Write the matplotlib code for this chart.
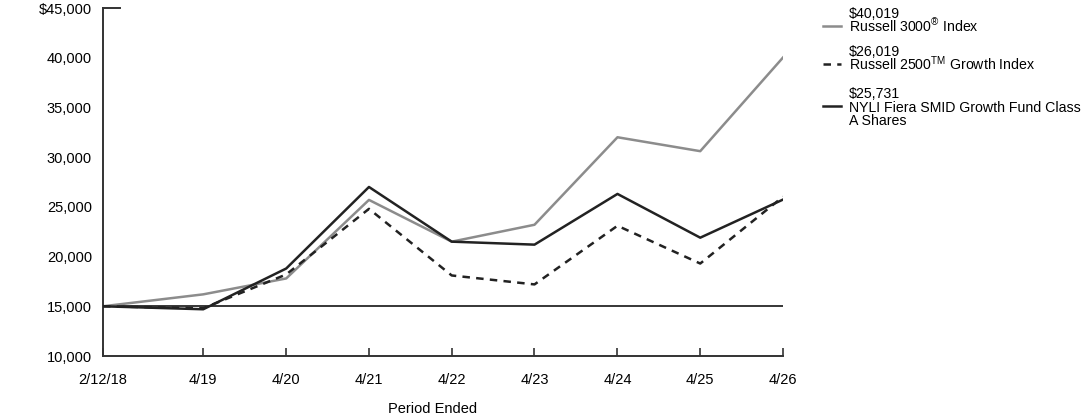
import datetime as dt
import matplotlib
matplotlib.use("Agg")
import matplotlib.pyplot as plt
from matplotlib.lines import Line2D
from matplotlib.ticker import FuncFormatter

plt.rcParams['font.family'] = ['Liberation Sans', 'DejaVu Sans']
plt.rcParams['mathtext.fontset'] = 'custom'
plt.rcParams['mathtext.rm'] = 'Liberation Sans'

# данные
dates = [dt.date(2018, 2, 12), dt.date(2019, 4, 30), dt.date(2020, 4, 30),
         dt.date(2021, 4, 30), dt.date(2022, 4, 30), dt.date(2023, 4, 30),
         dt.date(2024, 4, 30), dt.date(2025, 4, 30), dt.date(2026, 4, 30)]
tick_labels = ["2/12/18", "4/19", "4/20", "4/21", "4/22", "4/23", "4/24", "4/25", "4/26"]

russell_3000 = [15000, 16200, 17800, 25700, 21500, 23200, 32000, 30600, 40019]
russell_2500g = [15000, 14800, 18200, 24800, 18100, 17200, 23100, 19300, 26019]
fund = [15000, 14700, 18800, 27000, 21500, 21200, 26300, 21900, 25731]

baseline = 15000

end_values = ["$40,019", "$26,019", "$25,731"]
names = [["Russell 3000$^{\\mathrm{®}}$ Index"],
         ["Russell 2500$^{\\mathrm{TM}}$ Growth Index"],
         ["NYLI Fiera SMID Growth Fund Class", "A Shares"]]

gray = "#8c8c8c"
dark = "#222222"

fig = plt.figure(figsize=(10.92, 4.17), dpi=100)
ax = fig.add_axes([103 / 1092, 1 - 356 / 417, 680 / 1092, 348 / 417])

ax.plot(dates, [baseline] * len(dates), color="black", lw=1.1, zorder=1)
ax.plot(dates, russell_3000, color=gray, lw=1.8, zorder=2)
ax.plot(dates, russell_2500g, color=dark, lw=1.8, dashes=(3, 2.5), zorder=3)
ax.plot(dates, fund, color=dark, lw=1.8, zorder=4)

ax.set_xlim(dates[0], dates[-1])
ax.set_ylim(10000, 45000)
ax.set_xticks(dates)
ax.set_xticklabels(tick_labels, fontsize=10.5)
ax.set_yticks(range(10000, 45001, 5000))
ax.yaxis.set_major_formatter(FuncFormatter(
    lambda v, p: f"${v:,.0f}" if v == 45000 else f"{v:,.0f}"))
ax.tick_params(axis='y', length=0, pad=8, labelsize=10.5)
ax.tick_params(axis='x', direction='in', length=6, width=1.2, color="#333333",
               pad=12, labelsize=10.5)
ax.set_xlabel("Period Ended", fontsize=10.5, labelpad=11)
ax.xaxis.label.set_x(330 / 680)

for side in ["top", "right"]:
    ax.spines[side].set_visible(False)
for side in ["left", "bottom"]:
    ax.spines[side].set_color("#333333")
    ax.spines[side].set_linewidth(1.4)

# маленькая черта сверху оси y
ax.plot([0, 17 / 680], [1, 1], transform=ax.transAxes, color="#333333",
        lw=1.4, clip_on=False)

# легенда справа (центры строк в пикселях)
styles = [dict(color=gray, lw=1.8), dict(color=dark, lw=1.8, dashes=(3, 2.5)),
          dict(color=dark, lw=1.8)]
tops = [13, 51, 93]
for val, lines, st, top in zip(end_values, names, styles, tops):
    fig.text(849 / 1092, 1 - (top + 5) / 417, val, fontsize=10.2, va="baseline")
    for i, line in enumerate(lines):
        yc = top + 14 + 13 * i
        fig.text(849 / 1092, 1 - (yc + 5) / 417, line, fontsize=10.2,
                 va="baseline")
    fig.add_artist(Line2D([823 / 1092, 841 / 1092],
                          [1 - (top + 13) / 417] * 2, **st))

fig.savefig("out.png", dpi=100)
